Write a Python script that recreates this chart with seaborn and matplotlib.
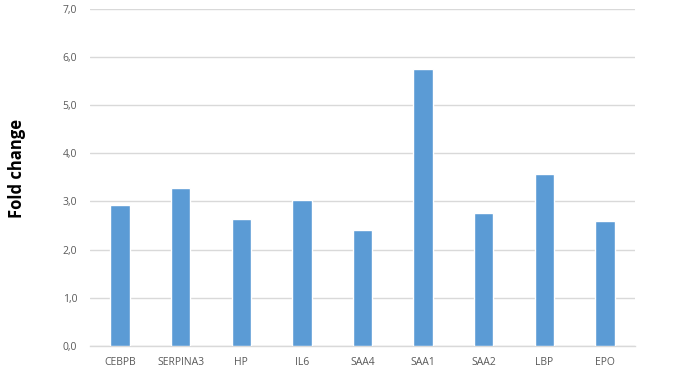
import matplotlib
matplotlib.use("Agg")
import matplotlib.pyplot as plt
import seaborn as sns
import pandas as pd

genes = ["CEBPB", "SERPINA3", "HP", "IL6", "SAA4", "SAA1", "SAA2", "LBP", "EPO"]
fold_change = [2.93, 3.27, 2.63, 3.03, 2.41, 5.75, 2.75, 3.56, 2.59]
y_ticks = [0, 1, 2, 3, 4, 5, 6, 7]

df = pd.DataFrame({"gene": genes, "fold": fold_change})

sns.set_theme(style="white")
plt.rcParams["font.family"] = ["Open Sans", "DejaVu Sans"]

fig = plt.figure(figsize=(6.75, 3.72), dpi=100)
ax = fig.add_axes([0.133, 0.070, 0.808, 0.907])

sns.barplot(data=df, x="gene", y="fold", color="#5B9BD5", saturation=1,
            width=0.32, ax=ax, zorder=3)

ax.set_ylim(0, 7)
ax.set_xlim(-0.5, len(genes) - 0.5)
ax.set_yticks(y_ticks)
ax.set_yticklabels([f"{v:.1f}".replace(".", ",") for v in y_ticks])
ax.grid(axis="y", color="#D9D9D9", linewidth=1, zorder=0)
ax.grid(axis="x", visible=False)
for s in ["top", "right", "left"]:
    ax.spines[s].set_visible(False)
ax.spines["bottom"].set_color("#D9D9D9")
ax.spines["bottom"].set_linewidth(1)
ax.tick_params(axis="both", length=0, colors="#595959", labelsize=7.5)
ax.tick_params(axis="y", pad=9)
ax.tick_params(axis="x", pad=8)
ax.set_xlabel("")
ax.set_ylabel("")
fig.text(17 / 675, 1 - 168 / 372, "Fold change", rotation=90, fontsize=12,
         fontweight="bold", color="black", ha="center", va="center")

fig.savefig("out.png", dpi=100)
